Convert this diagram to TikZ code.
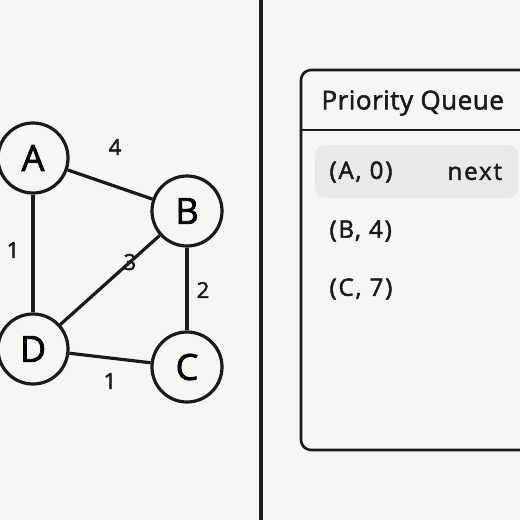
\documentclass[tikz,border=0pt]{standalone}
\usepackage{fontspec}
\setmainfont{Open Sans}[FakeBold=2]
\newfontfamily\spacedfont{Open Sans}[FakeBold=2, LetterSpace=8]
\newfontfamily\titlefont{Open Sans}[FakeBold=2, LetterSpace=2]
\usepackage{tikz}
\usepackage{xcolor}
\usetikzlibrary{positioning, calc}
\definecolor{paper}{HTML}{F7F6F2}
\definecolor{ink}{HTML}{1A1A1A}
\definecolor{rowgray}{HTML}{EAE9E5}

\begin{document}
\begin{tikzpicture}[x=1pt, y=-1pt,
            vertex/.style={circle, draw=ink, fill=paper, line width=3.2pt, minimum size=70pt, inner sep=0pt, font=\fontsize{36}{40}\selectfont},
            edge/.style={ink, line width=3.2pt},
            weight/.style={font=\fontsize{22}{26}\selectfont, text=ink},
            entry/.style={anchor=west, font=\spacedfont\fontsize{24}{28}\selectfont, text=ink}]
            \clip (0,0) rectangle (520,520);
            \fill[paper] (0,0) rectangle (520,520);
            % graph
            \node[vertex] (A) at (33,158) {A};
            \node[vertex] (B) at (187,211) {B};
            \node[vertex] (D) at (33,349) {D};
            \node[vertex] (C) at (187,367) {C};
            \draw[edge] (A)--(B);
            \draw[edge] (A)--(D);
            \draw[edge] (D)--(B);
            \draw[edge] (B)--(C);
            \draw[edge] (D)--(C);
            \node[weight] (wAB) at (115,147) {4};
            \node[weight] (wAD) at (13,250) {1};
            \node[weight] (wDB) at (130,262) {3};
            \node[weight] (wBC) at (203,290) {2};
            \node[weight] (wDC) at (110,381) {1};
            % divider
            \coordinate (top) at (261,0);
            \coordinate (bottom) at (261,520);
            \draw[edge] (top)--(bottom);
            % queue panel
            \draw[ink, line width=2.6pt, rounded corners=10pt] (301,70) rectangle (560,450);
            \draw[ink, line width=2.2pt] (301,130)--(560,130);
            \node[anchor=west, font=\titlefont\fontsize{26}{30}\selectfont, text=ink] (title) at (318,103) {Priority Queue};
            \fill[rowgray, rounded corners=10pt] (315,145) rectangle (518,198);
            \node[entry] (q1) at (326,172) {(A, 0)};
            \node[entry] (next) at (444,172) {next};
            \node[entry] (q2) at (326,231) {(B, 4)};
            \node[entry] (q3) at (326,289) {(C, 7)};
        \end{tikzpicture}
\end{document}
